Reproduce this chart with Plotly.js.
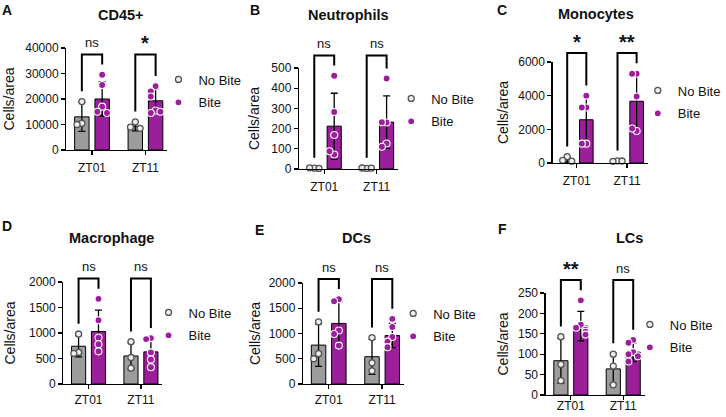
<!DOCTYPE html>
<html><head><meta charset="utf-8">
<script src="https://cdn.plot.ly/plotly-3.0.1.min.js"></script>
<style>html,body{margin:0;padding:0;background:#fff}#chart{width:726px;height:417px}</style>
</head><body><div id="chart"></div>
<script>
// ---------------- DATA ----------------
const categories = ['ZT01', 'ZT11'];
const seriesNames = ['No Bite', 'Bite'];
const panelTitles = ['CD45+', 'Neutrophils', 'Monocytes', 'Macrophage', 'DCs', 'LCs'];
const panelLetters = ['A', 'B', 'C', 'D', 'E', 'F'];
const yAxisTitle = 'Cells/area';

// A: CD45+
const cd45NoBiteMean = [13000, 9300];
const cd45NoBiteSD = [5700, 1800];
const cd45BiteMean = [20000, 19300];
const cd45BiteSD = [6700, 4700];
const cd45NoBitePts = [[19000, 10500, 10000], [11000, 9000, 8500]];
const cd45BitePts = [[29500, 25500, 17000, 15000, 14500], [25000, 23000, 21000, 15500, 14500, 15000]];
const cd45Sig = ['ns', '*'];

// B: Neutrophils
const neuNoBiteMean = [4, 4];
const neuNoBiteSD = [2, 2];
const neuBiteMean = [212, 232];
const neuBiteSD = [163, 130];
const neuNoBitePts = [[4, 6, 3], [3, 5, 4]];
const neuBitePts = [[462, 282, 168, 72, 88], [448, 230, 232, 126, 110]];
const neuSig = ['ns', 'ns'];

// C: Monocytes
const monoNoBiteMean = [200, 110];
const monoNoBiteSD = [140, 30];
const monoBiteMean = [2570, 3670];
const monoBiteSD = [1340, 1660];
const monoNoBitePts = [[380, 160, 110], [130, 100, 120]];
const monoBitePts = [[4000, 3300, 3300, 1150, 1150], [5300, 5300, 3950, 1900, 2050]];
const monoSig = ['*', '**'];

// D: Macrophage
const macNoBiteMean = [740, 550];
const macNoBiteSD = [210, 260];
const macBiteMean = [1030, 630];
const macBiteSD = [420, 250];
const macNoBitePts = [[980, 620, 600], [830, 520, 310]];
const macBitePts = [[1670, 1250, 910, 780, 640], [900, 880, 620, 480, 330]];
const macSig = ['ns', 'ns'];

// E: DCs
const dcNoBiteMean = [770, 540];
const dcNoBiteSD = [420, 350];
const dcBiteMean = [1200, 960];
const dcBiteSD = [430, 240];
const dcNoBitePts = [[1230, 600, 500], [920, 420, 260]];
const dcBitePts = [[1680, 1640, 1060, 990, 760], [1290, 1130, 930, 840, 730]];
const dcSig = ['ns', 'ns'];

// F: LCs
const lcNoBiteMean = [84, 64];
const lcNoBiteSD = [55, 38];
const lcBiteMean = [169, 105];
const lcBiteSD = [36, 23];
const lcNoBitePts = [[143, 75, 35], [100, 71, 25]];
const lcBitePts = [[232, 172, 165, 160, 155, 148], [135, 128, 105, 100, 95, 82]];
const lcSig = ['**', 'ns'];

// y-axis maxima and tick steps
const yMax = [40000, 500, 6000, 2000, 2000, 250];
const yStep = [10000, 100, 2000, 500, 500, 50];

// ---------------- BUILD ----------------
const panels = [
  {noM: cd45NoBiteMean, noS: cd45NoBiteSD, biM: cd45BiteMean, biS: cd45BiteSD, noP: cd45NoBitePts, biP: cd45BitePts, sig: cd45Sig},
  {noM: neuNoBiteMean, noS: neuNoBiteSD, biM: neuBiteMean, biS: neuBiteSD, noP: neuNoBitePts, biP: neuBitePts, sig: neuSig},
  {noM: monoNoBiteMean, noS: monoNoBiteSD, biM: monoBiteMean, biS: monoBiteSD, noP: monoNoBitePts, biP: monoBitePts, sig: monoSig},
  {noM: macNoBiteMean, noS: macNoBiteSD, biM: macBiteMean, biS: macBiteSD, noP: macNoBitePts, biP: macBitePts, sig: macSig},
  {noM: dcNoBiteMean, noS: dcNoBiteSD, biM: dcBiteMean, biS: dcBiteSD, noP: dcNoBitePts, biP: dcBitePts, sig: dcSig},
  {noM: lcNoBiteMean, noS: lcNoBiteSD, biM: lcBiteMean, biS: lcBiteSD, noP: lcNoBitePts, biP: lcBitePts, sig: lcSig}
];

// layout geometry (pixels)
const geom = [
  {x0: 67, x1: 169, y0: 48, y1: 150, t: [122, 15], l: [7, 10], lg: [160, 91], so: 7, xs: 2},
  {x0: 302, x1: 402, y0: 68, y1: 169, t: [352, 15], l: [257, 10], lg: [395, 110], so: 8, xs: 2},
  {x0: 558, x1: 654, y0: 62, y1: 163, t: [602, 14], l: [507, 10], lg: [644, 102], so: 6, xs: 2},
  {x0: 64, x1: 164, y0: 282, y1: 384, t: [113, 238], l: [7, 226], lg: [150, 324], so: 10, xs: 0},
  {x0: 306, x1: 408, y0: 283, y1: 384, t: [360, 238], l: [262, 230], lg: [397, 325], so: 4, xs: 0},
  {x0: 551, x1: 651, y0: 293, y1: 395, t: [636, 238], l: [507, 229], lg: [636, 336], so: 6, xs: -5}
];

const W = 726, H = 417;
const XR = [-0.48, 1.41];
const OFF = 0.19, BW = 0.27;
const GREY = '#9c9c9c', PURPLE = '#9b1f9b';
const FONT = '"Liberation Sans", Arial, Helvetica, sans-serif';
const INK = '#111';

function spread(vals, ymax) {
  const offs = [0, -0.09, 0.09, -0.045, 0.045, 0];
  const th = 0.065 * ymax;
  return vals.map((v, j) => {
    let k = 0;
    for (let m = 0; m < j; m++) if (Math.abs(vals[m] - v) < th) k++;
    return offs[Math.min(k, offs.length - 1)];
  });
}
const xd = v => (v - XR[0]) / (XR[1] - XR[0]);

const traces = [], shapes = [], annotations = [];
const layout = {
  width: W, height: H, margin: {l: 0, r: 0, t: 0, b: 0},
  paper_bgcolor: '#fff', plot_bgcolor: 'rgba(0,0,0,0)',
  font: {family: FONT, color: INK, size: 12},
  barmode: 'overlay', hovermode: false, showlegend: true
};

panels.forEach((p, k) => {
  const s = k === 0 ? '' : String(k + 1);
  const g = geom[k];
  const ymax = yMax[k];
  const xa = 'x' + s, ya = 'y' + s, lg = 'legend' + s;

  layout['xaxis' + s] = {
    domain: [g.x0 / W, g.x1 / W], range: XR, anchor: ya,
    tickvals: categories.map((c, i) => i), ticktext: categories,
    ticks: 'outside', ticklen: 4, tickwidth: 1.3, tickcolor: '#000',
    showline: true, linecolor: '#000', linewidth: 1.3,
    showgrid: false, zeroline: false, fixedrange: true,
    tickfont: {size: 12, color: INK}, ticklabelstandoff: g.xs
  };
  layout['yaxis' + s] = {
    domain: [1 - g.y1 / H, 1 - g.y0 / H], range: [0, ymax], anchor: xa,
    tick0: 0, dtick: yStep[k], tickformat: 'd',
    ticks: 'outside', ticklen: 4, tickwidth: 1.3, tickcolor: '#000',
    showline: true, linecolor: '#000', linewidth: 1.3,
    showgrid: false, zeroline: false, fixedrange: true,
    tickfont: {size: 12, color: INK},
    title: {text: yAxisTitle, font: {size: 14, color: INK}, standoff: g.so}
  };
  layout[lg] = {
    x: g.lg[0] / W, y: 1 - g.lg[1] / H, xanchor: 'left', yanchor: 'middle',
    bgcolor: 'rgba(0,0,0,0)', borderwidth: 0, font: {size: 13, color: INK},
    itemwidth: 30, traceorder: 'grouped', tracegroupgap: 3
  };

  const groups = [
    {m: p.noM, sd: p.noS, pts: p.noP, off: -OFF, color: GREY, name: seriesNames[0],
     mk: {color: '#eeeeee', size: 6, line: {color: '#555', width: 1.3}}},
    {m: p.biM, sd: p.biS, pts: p.biP, off: OFF, color: PURPLE, name: seriesNames[1],
     mk: {color: PURPLE, size: 7, line: {color: '#ffffff', width: 1.1}}}
  ];

  groups.forEach((gr) => {
    traces.push({
      type: 'bar', x: categories.map((c, i) => i + gr.off), y: gr.m, width: BW,
      xaxis: xa, yaxis: ya, showlegend: false,
      marker: {color: gr.color, line: {color: '#000', width: 1}},
      error_y: {type: 'data', array: gr.sd, visible: true, color: '#000', thickness: 1.3, width: 3.5}
    });
  });
  groups.forEach((gr, gi) => {
    const xs = [], ys = [];
    gr.pts.forEach((vals, i) => {
      const sp = spread(vals, ymax);
      vals.forEach((v, j) => { xs.push(i + gr.off + sp[j]); ys.push(v); });
    });
    traces.push({
      type: 'scatter', mode: 'markers', x: xs, y: ys, name: gr.name,
      xaxis: xa, yaxis: ya, legend: lg, legendgroup: 'g' + k + '_' + gi,
      cliponaxis: false, marker: gr.mk
    });
  });

  // significance brackets
  const legs = categories.map((c, i) => {
    const lo = Math.max(Math.max(...p.noP[i]), p.noM[i] + p.noS[i]) / ymax + 0.1;
    const hi = Math.max(Math.max(...p.biP[i]), p.biM[i] + p.biS[i]) / ymax + 0.1;
    return [lo, hi];
  });
  const top = Math.max(...legs.flat()) + 0.1;
  categories.forEach((c, i) => {
    const xl = xd(i - OFF), xr = xd(i + OFF);
    shapes.push({
      type: 'path', xref: xa + ' domain', yref: ya + ' domain',
      path: `M ${xl},${legs[i][0]} L ${xl},${top} L ${xr},${top} L ${xr},${legs[i][1]}`,
      line: {color: '#000', width: 2}
    });
    const star = p.sig[i] !== 'ns';
    annotations.push({
      xref: xa + ' domain', yref: ya + ' domain', x: xd(i), y: top + (star ? -0.02 : 0.02),
      yanchor: 'bottom', xanchor: 'center', showarrow: false, text: p.sig[i],
      font: {size: star ? 20 : 13, color: INK, weight: star ? 'bold' : 'normal'}
    });
  });

  annotations.push({
    xref: 'paper', yref: 'paper', x: g.t[0] / W, y: 1 - g.t[1] / H,
    xanchor: 'center', yanchor: 'middle', showarrow: false, text: '<b>' + panelTitles[k] + '</b>',
    font: {size: 14.5, color: INK}
  });
  annotations.push({
    xref: 'paper', yref: 'paper', x: g.l[0] / W, y: 1 - g.l[1] / H,
    xanchor: 'center', yanchor: 'middle', showarrow: false, text: '<b>' + panelLetters[k] + '</b>',
    font: {size: 14, color: INK}
  });
});

layout.shapes = shapes;
layout.annotations = annotations;

Plotly.newPlot('chart', traces, layout, {displayModeBar: false, staticPlot: true});
</script>
</body></html>
